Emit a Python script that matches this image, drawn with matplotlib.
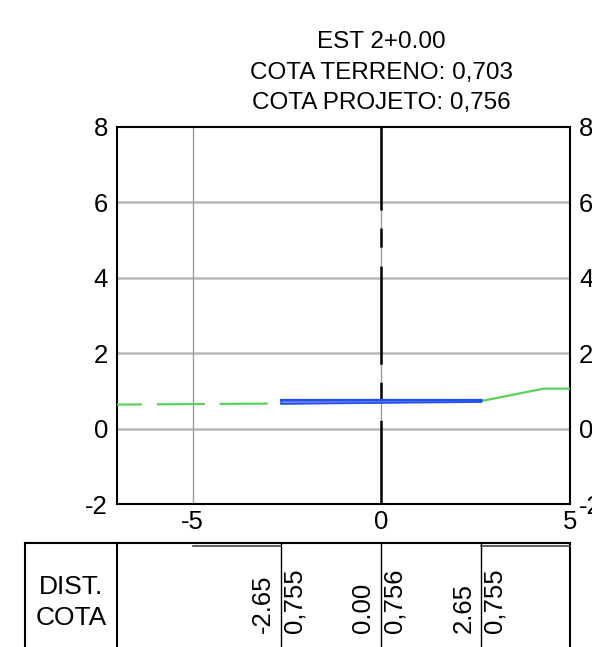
import matplotlib
matplotlib.use("Agg")
import matplotlib.pyplot as plt
from matplotlib import transforms

plt.rcParams['font.family'] = ['Liberation Sans', 'DejaVu Sans']
plt.rcParams['lines.scale_dashes'] = False
plt.rcParams['axes.unicode_minus'] = False

# section data
station_title = "EST 2+0.00"
cota_terreno = "0,703"
cota_projeto = "0,756"

terrain_x = [-7.0, -2.65, 0.0, 2.65, 4.3, 5.0]
terrain_y = [0.637, 0.666, 0.703, 0.730, 1.06, 1.06]

project_x = [-2.65, 0.0, 2.65]
project_top = [0.755, 0.756, 0.755]
project_bottom = [0.655, 0.680, 0.705]

dist_labels = ["-2.65", "0.00", "2.65"]
cota_labels = ["0,755", "0,756", "0,755"]

x_ticks = [-5, 0, 5]
y_ticks = [-2, 0, 2, 4, 6, 8]

W, H = 592, 647
fig = plt.figure(figsize=(W / 100, H / 100), dpi=100)
ax = fig.add_axes([117 / W, (H - 504) / H, 453 / W, 377 / H])
ax.set_xlim(-7, 5)
ax.set_ylim(-2, 8)
ax.set_xticks(x_ticks)
ax.set_yticks(y_ticks)
ax.tick_params(length=0, labelsize=18.5, labelright=True)
ax.tick_params(axis="y", pad=6.5)
ax.tick_params(axis="x", pad=4)
for s in ax.spines.values():
    s.set_linewidth(1.5)
    s.set_color("black")

# grid
for y in y_ticks[1:-1]:
    ax.axhline(y, color="#b8b8b8", lw=1.8, zorder=1)
for x in x_ticks[:-1]:
    ax.axvline(x, color="#9c9c9c", lw=1.0, zorder=1)

# center line (long-short dash)
ax.plot([0, 0], [8, -2], color="black", lw=1.8, zorder=2,
        linestyle=(10.8, (70.6, 13.0, 13.7, 13.7)))

# terrain: dashed on the left, solid on the right
green = "#5ccf5c"
ax.plot(terrain_x[:2], terrain_y[:2], color=green, lw=1.6, zorder=3,
        linestyle=(16.6, (34.5, 10.8)))
ax.plot(terrain_x[1:], terrain_y[1:], color=green, lw=1.6, zorder=3)

# project platform
poly_x = project_x + project_x[::-1]
poly_y = project_top + project_bottom[::-1]
ax.fill(poly_x, poly_y, facecolor="#7f88e8", edgecolor="#1f4ef2", lw=1.2, zorder=4)
ax.plot(project_x, project_top, color="#1f4ef2", lw=1.8, zorder=5)

# titles above the axes
tr = transforms.blended_transform_factory(ax.transData, fig.transFigure)
for i, line in enumerate([station_title, f"COTA TERRENO: {cota_terreno}",
                          f"COTA PROJETO: {cota_projeto}"]):
    fig.text(0, (H - (42 + 30.5 * i)) / H, line, transform=tr,
             ha="center", va="center", fontsize=17.5)

# table below
top = (H - 543) / H
fig.add_artist(plt.Line2D([25 / W, 570 / W], [top, top], color="black", lw=1.5,
                          transform=fig.transFigure))
for xp in [25, 117, 570]:
    fig.add_artist(plt.Line2D([xp / W, xp / W], [top, 0], color="black", lw=1.5,
                              transform=fig.transFigure))
for x in project_x:
    fig.add_artist(plt.Line2D([x, x], [top, 0], color="black", lw=1.0, transform=tr))
for xs in [(-5, -2.65), (2.65, 5)]:
    fig.add_artist(plt.Line2D(list(xs), [(H - 545.5) / H] * 2, color="#444444", lw=1.2,
                              transform=tr))

fig.text(71 / W, (H - 587) / H, "DIST.", ha="center", va="center", fontsize=19)
fig.text(71 / W, (H - 618) / H, "COTA", ha="center", va="center", fontsize=19)

ybot = (H - 633) / H
off_l = transforms.ScaledTranslation(-0.18, 0, fig.dpi_scale_trans)
off_r = transforms.ScaledTranslation(0.135, 0, fig.dpi_scale_trans)
for x, d, c in zip(project_x, dist_labels, cota_labels):
    fig.text(x, ybot, d, transform=tr + off_l, rotation=90, ha="center", va="bottom",
             fontsize=18.5)
    fig.text(x, ybot, c, transform=tr + off_r, rotation=90, ha="center", va="bottom",
             fontsize=18.5)

fig.savefig("out.png", dpi=100)
